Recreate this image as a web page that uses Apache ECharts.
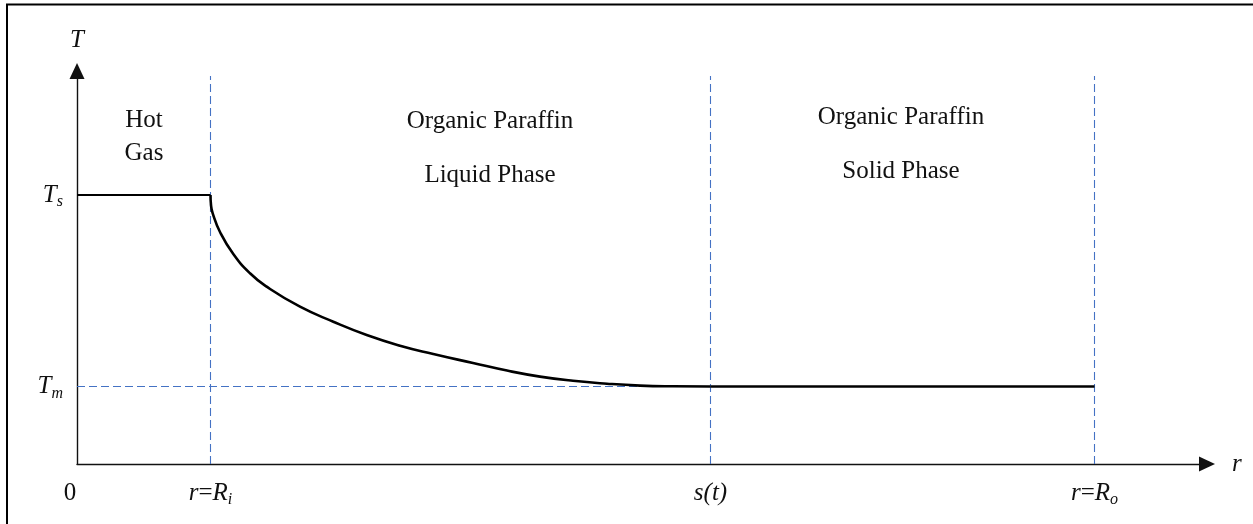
<!DOCTYPE html>
<html>
<head>
<meta charset="utf-8">
<style>
html,body{margin:0;padding:0;background:#fff;}
#chart{width:1253px;height:524px;}
</style>
<script src="https://cdn.jsdelivr.net/npm/echarts@6/dist/echarts.min.js"></script>
</head>
<body>
<div id="chart"></div>
<script>
// Schematic values (arbitrary units)
const T_s = 26.9;
const T_m = 7.75;
const R_i = 13.35;
const S_t = 63.35;
const R_o = 101.75;
const dashTop = 38.8;
const xMax = 113;
const yMax = 39.3;

// Liquid-phase temperature profile between R_i and s(t)
const curveR = [13.35, 13.4, 13.57, 14.3, 15.63, 17.3, 18.97, 22.3, 25.63, 28.97, 32.3, 35.63, 39.6, 43.0, 46.3, 49.6, 53.0, 56.3, 59.6, 63.35];
const curveT = [26.9, 25.9, 25.07, 23.2, 21.0, 19.07, 17.73, 15.73, 14.23, 12.9, 11.83, 11.0, 10.1, 9.34, 8.74, 8.32, 8.03, 7.84, 7.77, 7.75];

// Tick labels
const xTickValues = [0, R_i, S_t, R_o];
const xTickLabels = ['{z|0}', '{i|r}{n|=}{i|R}{sub|i}', '{i|s(t)}', '{i|r}{n|=}{i|R}{sub|o}'];
const yTickValues = [T_m, T_s];
const yTickLabels = ['{i|T}{sub|m}', '{i|T}{sub|s}'];

// Region annotations
const regionTexts = ['Hot\nGas', 'Organic Paraffin\nLiquid Phase', 'Organic Paraffin\nSolid Phase'];

const FONT = '"Liberation Serif", "Times New Roman", serif';
const FS = 25;
const richStyles = {
  z: {fontFamily: FONT, fontSize: FS, color: '#111', padding: [0, 14, 0, 0], lineHeight: 30},
  n: {fontFamily: FONT, fontSize: FS, color: '#111', lineHeight: 30},
  i: {fontFamily: FONT, fontSize: FS, fontStyle: 'italic', color: '#111', lineHeight: 30},
  sub: {fontFamily: FONT, fontSize: 16, fontStyle: 'italic', color: '#111', verticalAlign: 'bottom', lineHeight: 16}
};

const chart = echarts.init(document.getElementById('chart'), null, {renderer: 'canvas'});
const axisLineStyle = {color: '#111', width: 1.4};
const dashStyle = {color: '#4472C4', width: 1.1, type: [8, 4]};

function guide(name, pts) {
  return {name: name, type: 'line', showSymbol: false, symbol: 'none', silent: true, z: 2,
          lineStyle: dashStyle, data: pts};
}

chart.setOption({
  animation: false,
  backgroundColor: '#fff',
  grid: {left: 77, right: 46, top: 71, bottom: 60, containLabel: false},
  xAxis: {
    type: 'value', min: 0, max: xMax,
    name: 'r', nameLocation: 'end', nameGap: 25,
    nameTextStyle: {fontFamily: FONT, fontSize: FS, fontStyle: 'italic', color: '#111', verticalAlign: 'middle', padding: [5, 0, 0, 0]},
    axisLine: {show: true, lineStyle: axisLineStyle, symbol: ['none', 'triangle'], symbolSize: [15, 16]},
    axisTick: {show: false},
    splitLine: {show: false},
    axisLabel: {
      show: true, customValues: xTickValues, margin: 14,
      formatter: function (v) { const k = xTickValues.indexOf(v); return k >= 0 ? xTickLabels[k] : ''; },
      rich: richStyles
    }
  },
  yAxis: {
    type: 'value', min: 0, max: yMax,
    name: 'T', nameLocation: 'end', nameGap: 18,
    nameTextStyle: {fontFamily: FONT, fontSize: FS, fontStyle: 'italic', color: '#111'},
    axisLine: {show: true, lineStyle: axisLineStyle, symbol: ['none', 'triangle'], symbolSize: [15, 16]},
    axisTick: {show: false},
    splitLine: {show: false},
    axisLabel: {
      show: true, customValues: yTickValues, margin: 14,
      formatter: function (v) { const k = yTickValues.indexOf(v); return k >= 0 ? yTickLabels[k] : ''; },
      rich: richStyles
    }
  },
  graphic: [
    {type: 'rect', shape: {x: 7, y: 4.5, width: 1300, height: 600}, style: {fill: 'none', stroke: '#000', lineWidth: 2}, silent: true},
    {type: 'text', x: 144, y: 104, style: {text: regionTexts[0], font: FS + 'px ' + FONT, lineHeight: 33, fill: '#111', align: 'center', verticalAlign: 'top'}},
    {type: 'text', x: 490, y: 94, style: {text: regionTexts[1], font: FS + 'px ' + FONT, lineHeight: 54, fill: '#111', align: 'center', verticalAlign: 'top'}},
    {type: 'text', x: 901, y: 90, style: {text: regionTexts[2], font: FS + 'px ' + FONT, lineHeight: 54, fill: '#111', align: 'center', verticalAlign: 'top'}}
  ],
  series: [
    guide('ri', [[R_i, 0], [R_i, dashTop]]),
    guide('st', [[S_t, 0], [S_t, dashTop]]),
    guide('ro', [[R_o, 0], [R_o, dashTop]]),
    guide('tm', [[0, T_m], [S_t, T_m]]),
    {
      name: 'hotGas', type: 'line', showSymbol: false, symbol: 'none', z: 5,
      lineStyle: {color: '#000', width: 2.2},
      data: [[0, T_s], [R_i, T_s]]
    },
    {
      name: 'liquid', type: 'line', showSymbol: false, symbol: 'none', smooth: 0.5, z: 5,
      lineStyle: {color: '#000', width: 2.6},
      data: curveR.map((r, k) => [r, curveT[k]])
    },
    {
      name: 'solid', type: 'line', showSymbol: false, symbol: 'none', z: 5,
      lineStyle: {color: '#000', width: 2.4},
      data: [[S_t, T_m], [R_o, T_m]]
    }
  ]
});
</script>
</body>
</html>
